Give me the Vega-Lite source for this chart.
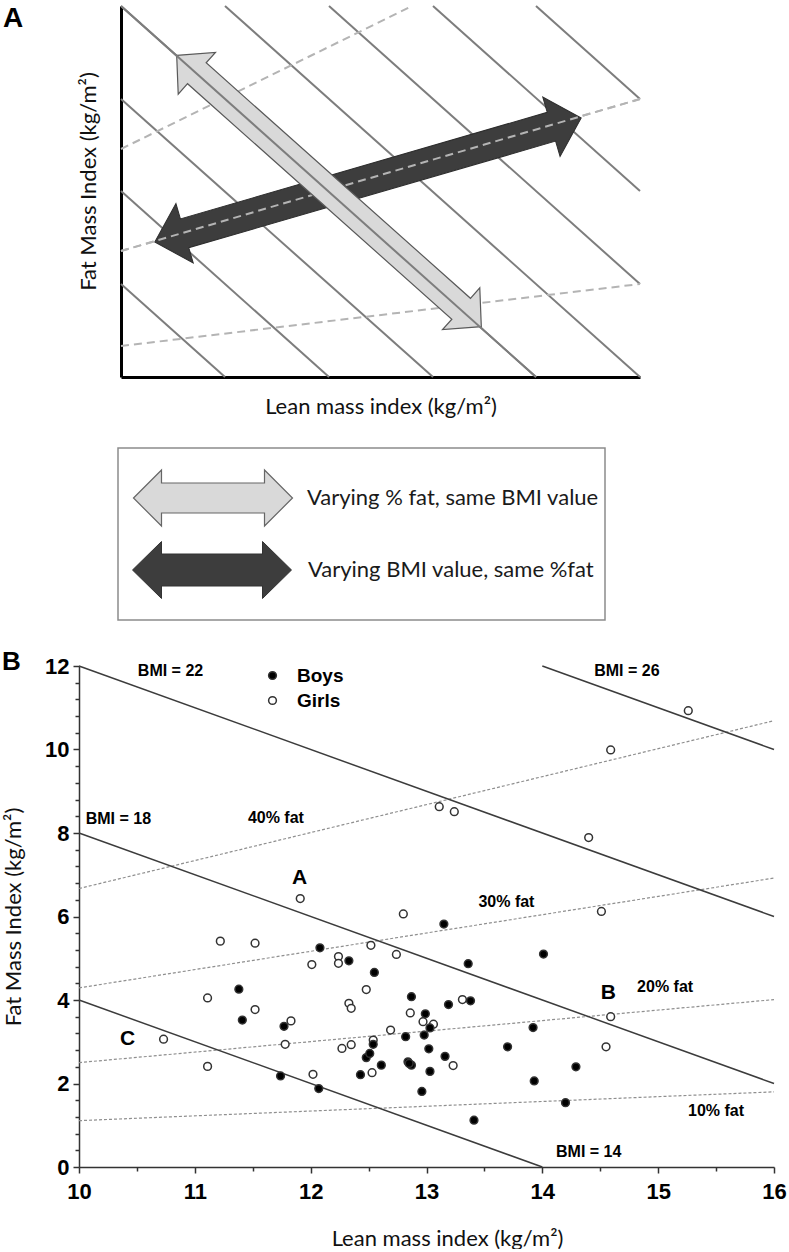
{
  "$schema": "https://vega.github.io/schema/vega-lite/v6.json",
  "background": "white",
  "padding": {"left": 2, "top": 2, "right": 0, "bottom": 0},
  "bounds": "flush",
  "spacing": 46,
  "config": {"view": {"stroke": null}},
  "datasets": {
    "aSolid": [
      {"line": "k1", "x": 0, "y": 93}, {"line": "k1", "x": 104, "y": 0},
      {"line": "k2", "x": 0, "y": 186}, {"line": "k2", "x": 208, "y": 0},
      {"line": "k3", "x": 0, "y": 278}, {"line": "k3", "x": 312, "y": 0},
      {"line": "k4", "x": 0, "y": 371}, {"line": "k4", "x": 415, "y": 0},
      {"line": "k5", "x": 104, "y": 371}, {"line": "k5", "x": 519, "y": 0},
      {"line": "k6", "x": 208, "y": 371}, {"line": "k6", "x": 519, "y": 93},
      {"line": "k7", "x": 312, "y": 371}, {"line": "k7", "x": 519, "y": 186},
      {"line": "k8", "x": 415, "y": 371}, {"line": "k8", "x": 519, "y": 278}
    ],
    "aDashed": [
      {"line": "d1", "x": 0, "y": 228}, {"line": "d1", "x": 291, "y": 371},
      {"line": "d2", "x": 0, "y": 126}, {"line": "d2", "x": 519, "y": 278},
      {"line": "d3", "x": 0, "y": 31}, {"line": "d3", "x": 519, "y": 93}
    ],
    "aArrows": [
      {"arrow": "BMI", "x": 247, "y": 197},
      {"arrow": "fat", "x": 208, "y": 186}
    ],
    "keyBox": [{"x0": 39, "x1": 526, "y0": 0, "y1": 172}],
    "keyArrows": [
      {"arrow": "fat", "x": 134, "y": 122},
      {"arrow": "BMI", "x": 133, "y": 50}
    ],
    "keyText": [
      {"text": "Varying % fat, same BMI value", "x": 228, "y": 122},
      {"text": "Varying BMI value, same %fat", "x": 229, "y": 50}
    ],
    "fatLines": [
      {"series": "40% fat", "lmi": 10, "fmi": 6.67}, {"series": "40% fat", "lmi": 16, "fmi": 10.69},
      {"series": "30% fat", "lmi": 10, "fmi": 4.29}, {"series": "30% fat", "lmi": 16, "fmi": 6.92},
      {"series": "20% fat", "lmi": 10, "fmi": 2.5}, {"series": "20% fat", "lmi": 16, "fmi": 4.01},
      {"series": "10% fat", "lmi": 10, "fmi": 1.11}, {"series": "10% fat", "lmi": 16, "fmi": 1.8}
    ],
    "bmiLines": [
      {"series": "BMI = 22", "lmi": 10, "fmi": 12}, {"series": "BMI = 22", "lmi": 16, "fmi": 6},
      {"series": "BMI = 18", "lmi": 10, "fmi": 8}, {"series": "BMI = 18", "lmi": 16, "fmi": 2},
      {"series": "BMI = 14", "lmi": 10, "fmi": 4}, {"series": "BMI = 14", "lmi": 14, "fmi": 0},
      {"series": "BMI = 26", "lmi": 14, "fmi": 12}, {"series": "BMI = 26", "lmi": 16, "fmi": 10}
    ],
    "labelsB": [
      {"label": "BMI = 22", "lmi": 10.79, "fmi": 11.88},
      {"label": "BMI = 18", "lmi": 10.34, "fmi": 8.34},
      {"label": "40% fat", "lmi": 11.7, "fmi": 8.35},
      {"label": "30% fat", "lmi": 13.69, "fmi": 6.35},
      {"label": "BMI = 26", "lmi": 14.73, "fmi": 11.88},
      {"label": "20% fat", "lmi": 15.06, "fmi": 4.31},
      {"label": "10% fat", "lmi": 15.5, "fmi": 1.34},
      {"label": "BMI = 14", "lmi": 14.4, "fmi": 0.36}
    ],
    "lettersB": [
      {"label": "A", "lmi": 11.905, "fmi": 6.93},
      {"label": "B", "lmi": 14.57, "fmi": 4.17},
      {"label": "C", "lmi": 10.42, "fmi": 3.06}
    ],
    "children": [
      {"sex": "Girls", "lmi": 10.73, "fmi": 3.06},
      {"sex": "Girls", "lmi": 11.11, "fmi": 4.05},
      {"sex": "Girls", "lmi": 11.11, "fmi": 2.41},
      {"sex": "Girls", "lmi": 11.22, "fmi": 5.41},
      {"sex": "Girls", "lmi": 11.52, "fmi": 5.36},
      {"sex": "Girls", "lmi": 11.52, "fmi": 3.77},
      {"sex": "Girls", "lmi": 11.78, "fmi": 2.94},
      {"sex": "Girls", "lmi": 11.83, "fmi": 3.5},
      {"sex": "Girls", "lmi": 11.91, "fmi": 6.43},
      {"sex": "Girls", "lmi": 12.01, "fmi": 4.85},
      {"sex": "Girls", "lmi": 12.02, "fmi": 2.22},
      {"sex": "Girls", "lmi": 12.24, "fmi": 5.04},
      {"sex": "Girls", "lmi": 12.24, "fmi": 4.88},
      {"sex": "Girls", "lmi": 12.27, "fmi": 2.84},
      {"sex": "Girls", "lmi": 12.35, "fmi": 2.93},
      {"sex": "Girls", "lmi": 12.33, "fmi": 3.92},
      {"sex": "Girls", "lmi": 12.35, "fmi": 3.8},
      {"sex": "Girls", "lmi": 12.48, "fmi": 4.25},
      {"sex": "Girls", "lmi": 12.52, "fmi": 5.31},
      {"sex": "Girls", "lmi": 12.54, "fmi": 3.04},
      {"sex": "Girls", "lmi": 12.53, "fmi": 2.26},
      {"sex": "Girls", "lmi": 12.69, "fmi": 3.28},
      {"sex": "Girls", "lmi": 12.74, "fmi": 5.09},
      {"sex": "Girls", "lmi": 12.8, "fmi": 6.06},
      {"sex": "Girls", "lmi": 12.86, "fmi": 3.69},
      {"sex": "Girls", "lmi": 12.97, "fmi": 3.48},
      {"sex": "Girls", "lmi": 13.06, "fmi": 3.42},
      {"sex": "Girls", "lmi": 13.23, "fmi": 2.43},
      {"sex": "Girls", "lmi": 13.11, "fmi": 8.63},
      {"sex": "Girls", "lmi": 13.24, "fmi": 8.51},
      {"sex": "Girls", "lmi": 13.31, "fmi": 4.01},
      {"sex": "Girls", "lmi": 14.4, "fmi": 7.89},
      {"sex": "Girls", "lmi": 14.51, "fmi": 6.12},
      {"sex": "Girls", "lmi": 14.59, "fmi": 9.99},
      {"sex": "Girls", "lmi": 15.26, "fmi": 10.93},
      {"sex": "Girls", "lmi": 14.59, "fmi": 3.6},
      {"sex": "Girls", "lmi": 14.55, "fmi": 2.88},
      {"sex": "Boys", "lmi": 11.38, "fmi": 4.26},
      {"sex": "Boys", "lmi": 11.41, "fmi": 3.52},
      {"sex": "Boys", "lmi": 11.74, "fmi": 2.18},
      {"sex": "Boys", "lmi": 11.77, "fmi": 3.37},
      {"sex": "Boys", "lmi": 12.07, "fmi": 1.88},
      {"sex": "Boys", "lmi": 12.08, "fmi": 5.25},
      {"sex": "Boys", "lmi": 12.33, "fmi": 4.94},
      {"sex": "Boys", "lmi": 12.55, "fmi": 4.66},
      {"sex": "Boys", "lmi": 12.43, "fmi": 2.21},
      {"sex": "Boys", "lmi": 12.48, "fmi": 2.62},
      {"sex": "Boys", "lmi": 12.51, "fmi": 2.72},
      {"sex": "Boys", "lmi": 12.54, "fmi": 2.94},
      {"sex": "Boys", "lmi": 12.61, "fmi": 2.44},
      {"sex": "Boys", "lmi": 12.82, "fmi": 3.12},
      {"sex": "Boys", "lmi": 12.84, "fmi": 2.52},
      {"sex": "Boys", "lmi": 12.87, "fmi": 2.44},
      {"sex": "Boys", "lmi": 12.85, "fmi": 2.48},
      {"sex": "Boys", "lmi": 12.87, "fmi": 4.08},
      {"sex": "Boys", "lmi": 12.96, "fmi": 1.81},
      {"sex": "Boys", "lmi": 12.99, "fmi": 3.67},
      {"sex": "Boys", "lmi": 12.98, "fmi": 3.16},
      {"sex": "Boys", "lmi": 13.03, "fmi": 3.33},
      {"sex": "Boys", "lmi": 13.02, "fmi": 2.83},
      {"sex": "Boys", "lmi": 13.03, "fmi": 2.29},
      {"sex": "Boys", "lmi": 13.16, "fmi": 2.65},
      {"sex": "Boys", "lmi": 13.15, "fmi": 5.82},
      {"sex": "Boys", "lmi": 13.19, "fmi": 3.89},
      {"sex": "Boys", "lmi": 13.36, "fmi": 4.87},
      {"sex": "Boys", "lmi": 13.38, "fmi": 3.98},
      {"sex": "Boys", "lmi": 13.41, "fmi": 1.12},
      {"sex": "Boys", "lmi": 13.7, "fmi": 2.88},
      {"sex": "Boys", "lmi": 13.92, "fmi": 3.34},
      {"sex": "Boys", "lmi": 13.93, "fmi": 2.06},
      {"sex": "Boys", "lmi": 14.01, "fmi": 5.1},
      {"sex": "Boys", "lmi": 14.2, "fmi": 1.54},
      {"sex": "Boys", "lmi": 14.29, "fmi": 2.4}
    ]
  },
  "vconcat": [
    {
      "width": 695,
      "height": 371,
      "title": {"text": "A", "anchor": "start", "frame": "group", "dx": -76, "dy": 31, "offset": 0, "baseline": "top", "font": "Liberation Sans", "fontSize": 28, "fontWeight": "bold", "color": "#000"},
      "layer": [
        {
          "data": {"name": "aSolid"},
          "mark": {"type": "line", "color": "#7d7d7d", "strokeWidth": 2},
          "encoding": {
            "x": {"field": "x", "type": "quantitative", "scale": {"domain": [0, 519], "range": [42, 561], "nice": false, "zero": false},
              "axis": {"title": "Lean mass index (kg/m²)", "ticks": false, "labels": false, "grid": false, "domainColor": "#000", "domainWidth": 3, "titleFont": "Lato", "titleFontSize": 22, "titleFontWeight": "normal", "titleColor": "#111", "titlePadding": 19}},
            "y": {"field": "y", "type": "quantitative", "scale": {"domain": [0, 371], "nice": false, "zero": false},
              "axis": {"title": "Fat Mass Index (kg/m²)", "offset": -42, "ticks": false, "labels": false, "grid": false, "domainColor": "#000", "domainWidth": 3, "titleFont": "Lato", "titleFontSize": 22, "titleFontWeight": "normal", "titleColor": "#111", "titlePadding": 21, "titleY": 175}},
            "detail": {"field": "line"}
          }
        },
        {
          "data": {"name": "aDashed"},
          "mark": {"type": "line", "color": "#b4b4b4", "strokeWidth": 2, "strokeDash": [8, 5]},
          "encoding": {"x": {"field": "x", "type": "quantitative"}, "y": {"field": "y", "type": "quantitative"}, "detail": {"field": "line"}}
        },
        {
          "data": {"name": "aArrows"},
          "transform": [{"filter": "datum.arrow === 'BMI'"}],
          "mark": {"type": "point", "shape": "M-222,0L-191,-31L-191,-15L191,-15L191,-31L222,0L191,31L191,15L-191,15L-191,31Z", "size": 4, "angle": 343.8, "fill": "#3d3d3d", "stroke": "#2e2e2e", "strokeWidth": 1, "opacity": 1},
          "encoding": {"x": {"field": "x", "type": "quantitative"}, "y": {"field": "y", "type": "quantitative"}}
        },
        {
          "data": {"name": "aDashed"},
          "transform": [{"filter": "datum.line === 'd2'"}],
          "mark": {"type": "line", "color": "#b4b4b4", "strokeWidth": 2, "strokeDash": [8, 5]},
          "encoding": {"x": {"field": "x", "type": "quantitative"}, "y": {"field": "y", "type": "quantitative"}, "detail": {"field": "line"}}
        },
        {
          "data": {"name": "aArrows"},
          "transform": [{"filter": "datum.arrow === 'fat'"}],
          "mark": {"type": "point", "shape": "M-204,0L-177,-28L-177,-14L177,-14L177,-28L204,0L177,28L177,14L-177,14L-177,28Z", "size": 4, "angle": 41.7, "fill": "#d9d9d9", "stroke": "#595959", "strokeWidth": 1.2, "opacity": 1},
          "encoding": {"x": {"field": "x", "type": "quantitative"}, "y": {"field": "y", "type": "quantitative"}}
        },
        {
          "data": {"name": "aSolid"},
          "transform": [{"filter": "datum.line === 'k4'"}],
          "mark": {"type": "line", "color": "#7d7d7d", "strokeWidth": 2},
          "encoding": {"x": {"field": "x", "type": "quantitative"}, "y": {"field": "y", "type": "quantitative"}, "detail": {"field": "line"}}
        }
      ]
    },
    {
      "width": 695,
      "height": 197,
      "layer": [
        {
          "data": {"name": "keyBox"},
          "mark": {"type": "rect", "fill": "white", "stroke": "#8c8c8c", "strokeWidth": 1.5},
          "encoding": {
            "x": {"field": "x0", "type": "quantitative", "scale": {"domain": [0, 695], "nice": false, "zero": false}, "axis": null},
            "x2": {"field": "x1"},
            "y": {"field": "y0", "type": "quantitative", "scale": {"domain": [0, 197], "nice": false, "zero": false}, "axis": null},
            "y2": {"field": "y1"}
          }
        },
        {
          "data": {"name": "keyArrows"},
          "transform": [{"filter": "datum.arrow === 'fat'"}],
          "mark": {"type": "point", "shape": "M-79.5,0L-51.5,-28L-51.5,-15L51.5,-15L51.5,-28L79.5,0L51.5,28L51.5,15L-51.5,15L-51.5,28Z", "size": 4, "fill": "#d9d9d9", "stroke": "#666666", "strokeWidth": 1.2, "opacity": 1},
          "encoding": {"x": {"field": "x", "type": "quantitative"}, "y": {"field": "y", "type": "quantitative"}}
        },
        {
          "data": {"name": "keyArrows"},
          "transform": [{"filter": "datum.arrow === 'BMI'"}],
          "mark": {"type": "point", "shape": "M-79.5,0L-50.5,-28.5L-50.5,-16L50.5,-16L50.5,-28.5L79.5,0L50.5,28.5L50.5,16L-50.5,16L-50.5,28.5Z", "size": 4, "fill": "#3d3d3d", "stroke": "#333333", "strokeWidth": 1, "opacity": 1},
          "encoding": {"x": {"field": "x", "type": "quantitative"}, "y": {"field": "y", "type": "quantitative"}}
        },
        {
          "data": {"name": "keyText"},
          "mark": {"type": "text", "align": "left", "baseline": "middle", "font": "Lato", "fontSize": 22, "color": "#1a1a1a"},
          "encoding": {"x": {"field": "x", "type": "quantitative"}, "y": {"field": "y", "type": "quantitative"}, "text": {"field": "text"}}
        }
      ]
    },
    {
      "width": 695,
      "height": 501,
      "title": {"text": "B", "anchor": "start", "frame": "group", "dx": -77, "dy": 23, "offset": 3, "baseline": "top", "font": "Liberation Sans", "fontSize": 26, "fontWeight": "bold", "color": "#000"},
      "resolve": {"axis": {"x": "independent", "y": "independent"}},
      "layer": [
        {
          "data": {"name": "fatLines"},
          "mark": {"type": "line", "color": "#8f8f8f", "strokeWidth": 1.2, "strokeDash": [3, 2]},
          "encoding": {
            "x": {"field": "lmi", "type": "quantitative", "scale": {"domain": [10, 16], "nice": false, "zero": false},
              "axis": {"title": "Lean mass index (kg/m²)", "orient": "bottom", "values": [10, 11, 12, 13, 14, 15, 16], "format": "d", "grid": false,
                "domainColor": "#333", "domainWidth": 1.5, "tickColor": "#333", "tickWidth": 1.5, "tickSize": 6,
                "labelFont": "Liberation Sans", "labelFontSize": 22, "labelFontWeight": "bold", "labelColor": "#000", "labelPadding": 8,
                "labelFlush": false, "labelOverlap": false,
                "titleFont": "Lato", "titleFontSize": 22, "titleFontWeight": "normal", "titleColor": "#111", "titlePadding": 26, "titleX": 368}},
            "y": {"field": "fmi", "type": "quantitative", "scale": {"domain": [0, 12], "nice": false, "zero": false},
              "axis": {"title": "Fat Mass Index (kg/m²)", "orient": "left", "values": [0, 2, 4, 6, 8, 10, 12], "format": "d", "grid": false,
                "domainColor": "#333", "domainWidth": 1.5, "tickColor": "#333", "tickWidth": 1.5, "tickSize": 6,
                "labelFont": "Liberation Sans", "labelFontSize": 22, "labelFontWeight": "bold", "labelColor": "#000", "labelPadding": 4,
                "labelFlush": false, "labelOverlap": false,
                "titleFont": "Lato", "titleFontSize": 22, "titleFontWeight": "normal", "titleColor": "#111", "titlePadding": 19}},
            "detail": {"field": "series"}
          }
        },
        {
          "data": {"name": "bmiLines"},
          "mark": {"type": "line", "color": "#3c3c3c", "strokeWidth": 1.5},
          "encoding": {
            "x": {"field": "lmi", "type": "quantitative",
              "axis": {"title": null, "orient": "bottom", "values": [10.5, 11.5, 12.5, 13.5, 14.5, 15.5], "labels": false, "domain": false, "grid": false, "tickColor": "#333", "tickWidth": 1.5, "tickSize": 4}},
            "y": {"field": "fmi", "type": "quantitative",
              "axis": {"title": null, "orient": "left", "values": [0.4, 0.8, 1.2, 1.6, 2.4, 2.8, 3.2, 3.6, 4.4, 4.8, 5.2, 5.6, 6.4, 6.8, 7.2, 7.6, 8.4, 8.8, 9.2, 9.6, 10.4, 10.8, 11.2, 11.6], "labels": false, "domain": false, "grid": false, "tickColor": "#333", "tickWidth": 1.5, "tickSize": 4}},
            "detail": {"field": "series"}
          }
        },
        {
          "data": {"name": "children"},
          "mark": {"type": "point", "shape": "circle", "size": 60, "stroke": "#333333", "strokeWidth": 1.5, "opacity": 1},
          "encoding": {
            "x": {"field": "lmi", "type": "quantitative", "axis": null},
            "y": {"field": "fmi", "type": "quantitative", "axis": null},
            "fill": {"field": "sex", "type": "nominal", "scale": {"domain": ["Boys", "Girls"], "range": ["#000000", "#ffffff"]},
              "legend": {"orient": "none", "legendX": 184, "legendY": 660, "title": null, "labelFont": "Liberation Sans", "labelFontSize": 19, "labelFontWeight": "bold", "labelColor": "#000", "symbolType": "circle", "symbolSize": 60, "symbolStrokeWidth": 1.5, "symbolStrokeColor": "#333333", "labelOffset": 15, "rowPadding": 5, "padding": 0}}
          }
        },
        {
          "data": {"name": "labelsB"},
          "mark": {"type": "text", "align": "center", "baseline": "middle", "font": "Liberation Sans", "fontSize": 16, "fontWeight": "bold", "color": "#000"},
          "encoding": {"x": {"field": "lmi", "type": "quantitative", "axis": null}, "y": {"field": "fmi", "type": "quantitative", "axis": null}, "text": {"field": "label"}}
        },
        {
          "data": {"name": "lettersB"},
          "mark": {"type": "text", "align": "center", "baseline": "middle", "font": "Liberation Sans", "fontSize": 21, "fontWeight": "bold", "color": "#000"},
          "encoding": {"x": {"field": "lmi", "type": "quantitative", "axis": null}, "y": {"field": "fmi", "type": "quantitative", "axis": null}, "text": {"field": "label"}}
        }
      ]
    }
  ]
}
